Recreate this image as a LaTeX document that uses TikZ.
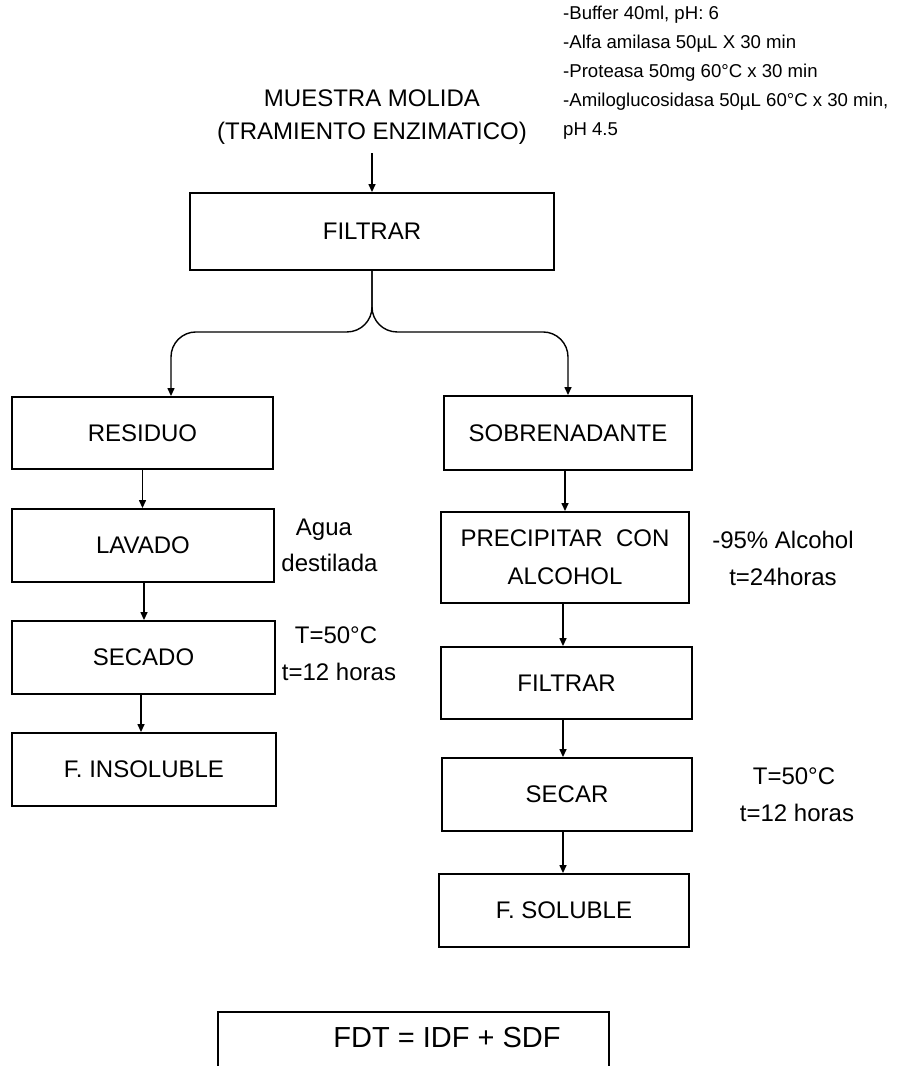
\documentclass[tikz,border=0pt]{standalone}
\usepackage{fontspec}
\setmainfont{Liberation Sans}
\usetikzlibrary{arrows.meta,calc}

\tikzset{
  proc/.style={draw, line width=1.9pt, inner sep=0pt, align=center,
    font=\fontsize{24}{38}\selectfont},
  conn/.style={line width=1.4pt, -{Triangle[length=8pt,width=7pt]}},
  note/.style={inner sep=0pt, align=center, font=\fontsize{24}{37}\selectfont},
}

\begin{document}
\begin{tikzpicture}[x=1pt, y=-1pt]
  \useasboundingbox[fill=white] (0,0) rectangle (901,1066);

  % heading and enzyme treatment conditions
  \node[inner sep=0pt, align=center, font=\fontsize{24}{33}\selectfont]
    (muestra) at (372,117.5) {MUESTRA MOLIDA\\(TRAMIENTO ENZIMATICO)};
  \node[inner sep=0pt, anchor=west, align=left, font=\fontsize{18.6}{29}\selectfont]
    (enzimas) at (563,73) {-Buffer 40ml, pH: 6\\-Alfa amilasa 50µL X 30 min\\-Proteasa 50mg 60°C x 30 min\\-Amiloglucosidasa 50µL 60°C x 30 min,\\pH 4.5};

  % first filtration
  \node[proc, minimum width=364, minimum height=77] (filt1) at (372,231.5) {FILTRAR};

  % insoluble branch
  \node[proc, minimum width=261, minimum height=72] (res)  at (142.5,433)   {RESIDUO};
  \node[proc, minimum width=262, minimum height=73] (lav)  at (143,545.5)   {LAVADO};
  \node[proc, minimum width=263, minimum height=73] (sec)  at (143.5,657.5) {SECADO};
  \node[proc, minimum width=264, minimum height=73] (fins) at (144,769.5)   {F. INSOLUBLE};

  \node[note, font=\fontsize{24}{36}\selectfont] (agua) at (324,545) {Agua\\\hspace*{11pt}destilada};
  \node[note] (secnota) at (336,653.5) {T=50°C\\\hspace*{6pt}t=12 horas};

  % soluble branch
  \node[proc, minimum width=248, minimum height=74] (sob)   at (568,433)   {SOBRENADANTE};
  \node[proc, minimum width=248, minimum height=91] (prec)  at (565,557.5) {PRECIPITAR\ \ CON\\ALCOHOL};
  \node[proc, minimum width=251, minimum height=72] (filt2) at (566.5,683) {FILTRAR};
  \node[proc, minimum width=250, minimum height=73] (secar) at (567,794.5) {SECAR};
  \node[proc, minimum width=250, minimum height=73] (fsol)  at (564,910.5) {F. SOLUBLE};

  \node[note] (precnota)  at (783,558.5) {-95\% Alcohol\\t=24horas};
  \node[note] (secarnota) at (794,795)   {T=50°C\\\hspace*{6pt}t=12 horas};

  % total fibre formula, frame running off the lower edge
  \begin{scope}
    \clip (0,0) rectangle (901,1066);
    \node[draw, line width=1.9pt, minimum width=391, minimum height=120,
      anchor=north west, inner sep=0pt] (fdt) at (217,1011) {};
  \end{scope}
  \node[inner sep=0pt, font=\fontsize{29}{34}\selectfont] (fdttxt) at (447,1038) {FDT = IDF + SDF};

  % connectors
  \draw[conn] ($(muestra.south)+(0,8)$) -- (filt1.north);
  \draw[conn, rounded corners=25] (filt1.south) -- ++(0,61) -| ($(res.north)+(28.5,0)$);
  \draw[conn, rounded corners=25] (filt1.south) -- ++(0,61) -| (sob.north);

  \draw[conn] (res.south) -- (res.south |- lav.north);
  \draw[conn] ($(lav.south)+(1,0)$) -- ($(lav.south |- sec.north)+(1,0)$);
  \draw[conn] ($(sec.south)+(-2.5,0)$) -- ($(sec.south |- fins.north)+(-2.5,0)$);

  \draw[conn] (sob.south -| prec.north) -- (prec.north);
  \draw[conn] ($(prec.south)+(-2,0)$) -- ($(prec.south |- filt2.north)+(-2,0)$);
  \draw[conn] ($(filt2.south)+(-3.5,0)$) -- ($(filt2.south |- secar.north)+(-3.5,0)$);
  \draw[conn] ($(secar.south)+(-4,0)$) -- ($(secar.south |- fsol.north)+(-4,0)$);
\end{tikzpicture}
\end{document}
